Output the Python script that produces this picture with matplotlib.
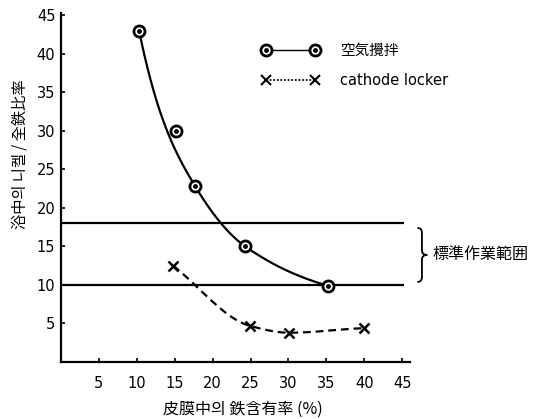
import numpy as np
import matplotlib
matplotlib.use("Agg")
import matplotlib.pyplot as plt
from matplotlib.lines import Line2D
from matplotlib.path import Path
from matplotlib.patches import PathPatch
from matplotlib.legend_handler import HandlerTuple

# Data
air_x = [10.3, 15.2, 17.7, 24.3, 35.2]
air_y = [43.0, 30.0, 22.8, 15.0, 9.9]
cath_x = [14.8, 24.9, 30.1, 40.0]
cath_y = [12.5, 4.7, 3.8, 4.4]
range_low = 10
range_high = 18
x_ticks = [5, 10, 15, 20, 25, 30, 35, 40, 45]
y_ticks = [5, 10, 15, 20, 25, 30, 35, 40, 45]

# the hand-drawn curve passes a little left of the 2nd circle
air_curve_idx = [0, 2, 3, 4]

KR = ['Noto Sans CJK KR', 'DejaVu Sans']
JP = ['Noto Sans CJK JP', 'DejaVu Sans']


def smooth(x, y, d_first=None, d_last_scale=0.6, n=200):
    # monotone cubic curve through the points (for the hand-drawn smooth line)
    x = np.asarray(x, float)
    y = np.asarray(y, float)
    h = np.diff(x)
    s = np.diff(y) / h
    d = np.zeros_like(y)
    for k in range(1, len(x) - 1):
        if s[k - 1] * s[k] > 0:
            w1 = 2 * h[k] + h[k - 1]
            w2 = h[k] + 2 * h[k - 1]
            d[k] = (w1 + w2) / (w1 / s[k - 1] + w2 / s[k])
    d[0] = s[0] if d_first is None else d_first
    d[-1] = s[-1] * d_last_scale
    xs = np.linspace(x[0], x[-1], n)
    idx = np.clip(np.searchsorted(x, xs) - 1, 0, len(h) - 1)
    t = (xs - x[idx]) / h[idx]
    h00 = 2 * t**3 - 3 * t**2 + 1
    h10 = t**3 - 2 * t**2 + t
    h01 = -2 * t**3 + 3 * t**2
    h11 = t**3 - t**2
    ys = h00 * y[idx] + h10 * h[idx] * d[idx] + h01 * y[idx + 1] + h11 * h[idx] * d[idx + 1]
    return xs, ys


fig = plt.figure(figsize=(5.35, 4.19), dpi=100)
ax = fig.add_axes([0.114, 0.136, 0.652, 0.833])

# standard working range lines
ax.hlines([range_high, range_low], 0, 45.2, colors='black', linewidth=1.6)

# smooth curves
sx, sy = smooth([air_x[i] for i in air_curve_idx], [air_y[i] for i in air_curve_idx],
                d_first=-4.8)
ax.plot(sx, sy, color='black', linewidth=1.6)
cx, cy = smooth(cath_x, cath_y)
ax.plot(cx, cy, color='black', linewidth=1.6, linestyle=(0, (3.5, 2.2)))

# markers
ax.plot(air_x, air_y, linestyle='none', marker='o', markersize=8,
        markerfacecolor='white', markeredgecolor='black', markeredgewidth=2)
ax.plot(air_x, air_y, linestyle='none', marker='o', markersize=2.5, color='black')
ax.plot(cath_x, cath_y, linestyle='none', marker='x', markersize=7,
        markeredgewidth=1.8, color='black')

# legend
h_ring = Line2D([], [], color='black', linewidth=1.0, marker='o', markersize=8,
                markerfacecolor='white', markeredgecolor='black', markeredgewidth=2)
h_dot = Line2D([], [], linestyle='none', marker='o', markersize=2.5, color='black')
h_x = Line2D([], [], color='black', linewidth=1.3, linestyle=(0, (1, 1)),
             marker='x', markersize=7, markeredgewidth=1.5)
leg = ax.legend([(h_ring, h_dot), h_x], ['空気攪拌', 'cathode locker'],
                handler_map={tuple: HandlerTuple(ndivide=1)},
                loc='upper left', bbox_to_anchor=(0.545, 0.94),
                frameon=False, numpoints=2, handlelength=4.0,
                handletextpad=1.4, labelspacing=1.05, borderpad=0.2,
                prop={'size': 10.5})
leg.get_texts()[0].set_family(JP)
leg.get_texts()[1].set_family('DejaVu Sans')

# brace for the standard working range
bx0, bx1, bx2 = 47.0, 47.6, 48.3
yt, yb, ym, r = 17.4, 10.4, 13.9, 0.6
verts = [(bx0, yt), (bx1, yt), (bx1, yt - r),
         (bx1, ym + r),
         (bx1, ym), (bx2, ym),
         (bx1, ym), (bx1, ym - r),
         (bx1, yb + r),
         (bx1, yb), (bx0, yb)]
codes = [Path.MOVETO, Path.CURVE3, Path.CURVE3,
         Path.LINETO,
         Path.CURVE3, Path.CURVE3,
         Path.CURVE3, Path.CURVE3,
         Path.LINETO,
         Path.CURVE3, Path.CURVE3]
ax.add_patch(PathPatch(Path(verts, codes), facecolor='none', edgecolor='black',
                       linewidth=1.3, clip_on=False))
ax.text(49.0, ym, '標準作業範囲', family=JP, fontsize=11.5, va='center', ha='left')

# axes styling
ax.set_xlim(0, 46)
ax.set_ylim(0, 45.3)
ax.set_xticks(x_ticks)
ax.set_yticks(y_ticks)
ax.set_xticklabels([str(v) for v in x_ticks], family='DejaVu Sans', fontsize=10.5)
ax.set_yticklabels([str(v) for v in y_ticks], family='DejaVu Sans', fontsize=10.5)
ax.tick_params(axis='both', direction='in', length=3, width=1.2)
ax.tick_params(axis='x', pad=10)
ax.tick_params(axis='y', pad=4)
for side in ['top', 'right']:
    ax.spines[side].set_visible(False)
for side in ['left', 'bottom']:
    ax.spines[side].set_linewidth(1.6)

ax.set_xlabel('皮膜中의 鉄含有率 (%)', family=KR, fontsize=11.5)
ax.xaxis.set_label_coords(0.52, -0.112)
ax.set_ylabel('浴中의 니켈 / 全鉄比率', family=KR, fontsize=11)
ax.yaxis.set_label_coords(-0.092, 0.596)

fig.savefig('out.png', dpi=100)
